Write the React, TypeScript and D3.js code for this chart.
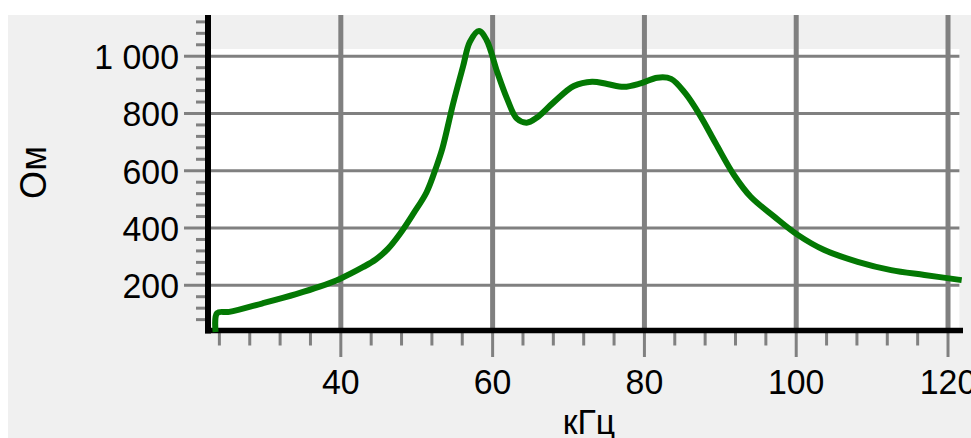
import React from "react";
import * as d3 from "d3";

const freqKHz = [23.5, 23.7, 25.3, 29.7, 34.1, 37.2, 40, 42.9, 44.6, 46.2, 47.8, 49.6, 51.3, 52.6, 53.4, 54.8, 56.1, 57.0, 58.2, 59.2, 60.6, 61.9, 63.2, 64.5, 65.8, 68.0, 70.7, 73.1, 75.1, 77.3, 79.5, 81.7, 83.5, 85.4, 87.4, 89.4, 91.8, 94.0, 97.1, 100.2, 103.7, 108.1, 112.5, 116.9, 121.8];
const impedanceOhm = [37, 103, 107, 137, 169, 195, 224, 263, 290, 327, 380, 452, 525, 615, 680, 835, 964, 1050, 1088, 1057, 945, 852, 782, 768, 785, 838, 896, 911, 903, 893, 905, 925, 921, 870, 790, 695, 585, 509, 440, 376, 323, 282, 253, 236, 218];

const xMajorTicks = [40, 60, 80, 100, 120];
const xMinorTicks = [24, 28, 32, 36, 44, 48, 52, 56, 64, 68, 72, 76, 84, 88, 92, 96, 104, 108, 112, 116];
const yMajorTicks = [200, 400, 600, 800, 1000];
const yMinorTicks = [80, 120, 160, 240, 280, 320, 360, 440, 480, 520, 560, 640, 680, 720, 760, 840, 880, 920, 960, 1040, 1080, 1120];
const xTitle = "кГц";
const yTitle = "Ом";

const fmtY = (v: number) => (v >= 1000 ? `${Math.floor(v / 1000)} ${String(v % 1000).padStart(3, "0")}` : String(v));

export default function App() {
  const W = 971, H = 438;
  const left = 208, right = 959.4, top = 15, bottom = 330.5;
  const x = d3.scaleLinear().domain([22.5, 121.5]).range([left, right]);
  const y = d3.scaleLinear().domain([42, 1144]).range([bottom, top]);
  const data = freqKHz.map((f, i) => [f, impedanceOhm[i]] as [number, number]);
  const line = d3.line<[number, number]>().x(d => x(d[0])).y(d => y(d[1])).curve(d3.curveCatmullRom.alpha(0.5));
  const grid = "#808080";
  const font = "'Liberation Sans', Arial, sans-serif";
  const sx = 0.94;
  return (
    <svg width={W} height={H} style={{ position: "absolute", left: 0, top: 0 }} fontFamily={font}>
      <rect x={0} y={0} width={W} height={H} fill="#ffffff" />
      <rect x={8} y={15} width={W - 8} height={H - 15} fill="#f0f0f0" />
      <rect x={left + 3} y={49} width={right - left - 3} height={bottom - 2.5 - 49} fill="#ffffff" />
      {yMajorTicks.map(v => (
        <line key={"hg" + v} x1={left + 3} x2={right} y1={y(v)} y2={y(v)} stroke={grid} strokeWidth={3} />
      ))}
      {xMajorTicks.map(v => (
        <line key={"vg" + v} x1={x(v)} x2={x(v)} y1={top} y2={bottom} stroke={grid} strokeWidth={5} />
      ))}
      {xMajorTicks.map(v => (
        <line key={"xt" + v} x1={x(v)} x2={x(v)} y1={bottom} y2={357} stroke={grid} strokeWidth={3} />
      ))}
      {xMinorTicks.map(v => (
        <line key={"xm" + v} x1={x(v)} x2={x(v)} y1={bottom} y2={345.5} stroke={grid} strokeWidth={3} />
      ))}
      {yMajorTicks.map(v => (
        <line key={"yt" + v} x1={184} x2={left} y1={y(v)} y2={y(v)} stroke={grid} strokeWidth={3} />
      ))}
      {yMinorTicks.map(v => (
        <line key={"ym" + v} x1={196} x2={left} y1={y(v)} y2={y(v)} stroke={grid} strokeWidth={3} />
      ))}
      <line x1={left} x2={left} y1={top} y2={bottom + 3} stroke="#000" strokeWidth={6} />
      <line x1={left - 3} x2={963} y1={bottom} y2={bottom} stroke="#000" strokeWidth={5.5} />
      {xMajorTicks.map(v => (
        <text key={"xl" + v} transform={`translate(${x(v)},393.5) scale(${sx},1)`} textAnchor="middle" fontSize={36} fill="#000">{v}</text>
      ))}
      {yMajorTicks.map(v => (
        <text key={"yl" + v} transform={`translate(179,${y(v) + 13}) scale(${sx},1)`} textAnchor="end" fontSize={36} fill="#000">{fmtY(v)}</text>
      ))}
      <text transform={`translate(589,434) scale(${sx},1)`} textAnchor="middle" fontSize={36} fill="#000">{xTitle}</text>
      <text transform={`translate(46,172.5) rotate(-90)`} textAnchor="middle" fontSize={36} fill="#000">{yTitle}</text>
      <path d={line(data) || ""} fill="none" stroke="#037803" strokeWidth={6} strokeLinejoin="round" strokeLinecap="butt" />
    </svg>
  );
}
